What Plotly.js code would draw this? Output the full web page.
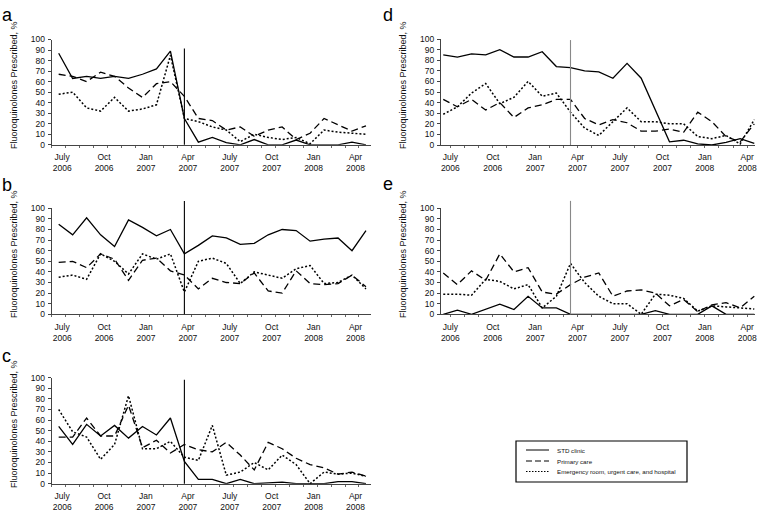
<!DOCTYPE html>
<html>
<head>
<meta charset="utf-8">
<script src="https://cdn.plot.ly/plotly-3.0.1.min.js"></script>
<style>html,body{margin:0;padding:0;background:#fff;}#chart{width:762px;height:513px;}</style>
</head>
<body>
<div id="chart"></div>
<script>
// ---- Data (monthly, July 2006 .. May 2008) ----
const monthIndex = [0,1,2,3,4,5,6,7,8,9,10,11,12,13,14,15,16,17,18,19,20,21,22];
const tickIndex = [0,3,6,9,12,15,18,21];
const tickLabels = ['July<br>2006','Oct<br>2006','Jan<br>2007','Apr<br>2007','July<br>2007','Oct<br>2007','Jan<br>2008','Apr<br>2008'];
const interventionIndex = 9; // April 2007
const seriesNames = ['STD clinic','Primary care','Emergency room, urgent care, and hospital'];
const yTitle = 'Fluoroquinolones Prescribed, %';
const yTicks = [0,10,20,30,40,50,60,70,80,90,100];

const a_std = [87,63,65,63,65,63,67,72,89,25,2.5,7,2,0,5,0,0,4.5,0,0,0,2.5,0];
const a_pc  = [67,65,60,69,65,54,45,58,60,46,25,23,14,17,8,14,17,5,11,25,19,13,18];
const a_er  = [48,50,35,32,45,32,34,38,85,25,22,17,14,3,10,7,5,7,1,14,12,11,10];

const b_std = [85,75,91,75,64,89,82,74,80,57,65,74,72,66,67,75,80,79,69,71,72,60,79];
const b_pc  = [49,50,44,57,52,32,51,53,41,37,24,34,30,29,39,22,20,41,29,28,29,37,26];
const b_er  = [35,37,33,57,50,38,57,52,57,21,50,53,48,29,40,37,34,43,46,29,30,37,24];

const c_std = [54,37,56,45,55,43,54,46,62,21,4,4,0,4,0,1,1.5,0,0,0,2,2,0];
const c_pc  = [44,44,62,45,45,74,34,41,29,37,32,30,39,27,13,39,33,24,18,15,9,11,7];
const c_er  = [70,49,44,23,37,83,33,33,40,25,22,55,8,11,20,13,27,18,0,11,9,10,7];

const d_std = [85,83,86,85,90,83,83,88,74,73,70,69,63,77,63,33,3,4.5,1,0,2.5,6,1.5];
const d_pc  = [43,36,43,33,40,26,35,38,43,43,25,19,24,21,13,13,15,12,31,22,8,3,20];
const d_er  = [29,36,49,58,39,45,60,46,49,31,16,9,22,35,22,22,20,20,8,6,9,1,24];

const e_std = [0,4,0,5,9.5,4.5,17,6,6,0,0,0,0,0,0,3.5,0,0,0,8,0,0,0];
const e_pc  = [39,28,41,32,57,40,44,21,19,28,35,39,17,22,23,20,8,14,2.5,9,11,6,17];
const e_er  = [19,19,18,33,31,24,28,6,17,48,30,17,10,10,0,19,18,15,3,8,7,6,5];

// ---- Layout helpers ----
const W = 762, H = 513;
const px = x => x / W;
const py = y => 1 - y / H;
const FONT = 'Liberation Sans, Arial, sans-serif';

const panels = [
  {key:'a', data:[a_std,a_pc,a_er], x0:51.7, x1:371, yb:144.8, yt:39.5, range:[-0.5,22.36], tickOff:0.25, vTop:0.915, vColor:'#000', lx:0, ly:15, tx:14, ty:85},
  {key:'b', data:[b_std,b_pc,b_er], x0:51.7, x1:371, yb:314.3, yt:208.3, range:[-0.5,22.36], tickOff:0.25, vTop:1.07, vColor:'#000', lx:0, ly:185, tx:14, ty:254},
  {key:'c', data:[c_std,c_pc,c_er], x0:51.7, x1:371, yb:483.7, yt:377.7, range:[-0.5,22.36], tickOff:0.25, vTop:0.98, vColor:'#000', lx:0, ly:356, tx:14, ty:424},
  {key:'d', data:[d_std,d_pc,d_er], x0:441, x1:755, yb:145, yt:39, range:[-0.16,22.05], tickOff:0.5, vTop:0.99, vColor:'#888', lx:381, ly:15, tx:403, ty:85},
  {key:'e', data:[e_std,e_pc,e_er], x0:441, x1:755, yb:314.3, yt:208.3, range:[-0.16,22.05], tickOff:0.5, vTop:1.07, vColor:'#888', lx:381, ly:184, tx:403, ty:254}
];

const lineStyles = [
  {color:'#000', width:1.3, dash:'solid'},
  {color:'#000', width:1.3, dash:'7px,4px'},
  {color:'#000', width:1.5, dash:'2px,2px'}
];

const traces = [];
const layout = {
  width: W, height: H,
  margin: {l:0, r:0, t:0, b:0},
  paper_bgcolor: '#fff', plot_bgcolor: '#fff',
  showlegend: false,
  font: {family: FONT, color: '#111'},
  shapes: [], annotations: []
};

panels.forEach((p, i) => {
  const n = i === 0 ? '' : String(i + 1);
  const xa = 'xaxis' + n, ya = 'yaxis' + n;
  const xr = 'x' + n, yr = 'y' + n;
  p.data.forEach((vals, s) => {
    traces.push({
      type: 'scatter', mode: 'lines',
      x: monthIndex, y: vals, name: seriesNames[s],
      xaxis: xr, yaxis: yr,
      line: lineStyles[s], hoverinfo: 'skip'
    });
  });
  layout[xa] = {
    domain: [px(p.x0), px(p.x1)], anchor: yr, range: p.range,
    showgrid: false, zeroline: false, showline: true, linecolor: '#444', linewidth: 1,
    tickmode: 'array', tickvals: tickIndex.map(v => v + p.tickOff), ticktext: tickLabels,
    ticks: '', tickfont: {size: 8.5, family: FONT, color: '#111'},
    ticklabelstandoff: 4,
    minor: {tickmode: 'linear', tick0: -0.5, dtick: 1, ticks: 'outside', ticklen: 2, tickcolor: '#666'}
  };
  layout[ya] = {
    domain: [py(p.yb), py(p.yt)], anchor: xr, range: [0, 100],
    showgrid: false, zeroline: false, showline: true, linecolor: '#444', linewidth: 1,
    tickmode: 'array', tickvals: yTicks, ticks: 'outside', ticklen: 3, tickcolor: '#444',
    tickfont: {size: 8.5, family: FONT, color: '#111'}, ticklabelstandoff: 1
  };
  layout.shapes.push({
    type: 'line', xref: xr, yref: yr + ' domain',
    x0: interventionIndex, x1: interventionIndex, y0: 0, y1: p.vTop,
    line: {color: p.vColor, width: 1.1}
  });
  layout.annotations.push({
    xref: 'paper', yref: 'paper', x: px(p.lx), y: py(p.ly),
    xanchor: 'left', yanchor: 'middle', showarrow: false,
    text: p.key, font: {size: 18, family: FONT, color: '#000'}
  });
  layout.annotations.push({
    xref: 'paper', yref: 'paper', x: px(p.tx), y: py(p.ty),
    xanchor: 'center', yanchor: 'middle', showarrow: false, textangle: -90,
    text: yTitle, font: {size: 9, family: FONT, color: '#111'}
  });
});

// ---- Legend box (bottom right) ----
const lg = {x0:516, x1:687, y0:441, y1:482, lineX0:526, lineX1:549, textX:555, rows:[450, 461, 471.5]};
layout.shapes.push({
  type: 'rect', xref: 'paper', yref: 'paper',
  x0: px(lg.x0), x1: px(lg.x1), y0: py(lg.y1), y1: py(lg.y0),
  line: {color: '#000', width: 1.2}, fillcolor: '#fff', layer: 'below'
});
seriesNames.forEach((name, s) => {
  layout.shapes.push({
    type: 'line', xref: 'paper', yref: 'paper',
    x0: px(lg.lineX0), x1: px(lg.lineX1), y0: py(lg.rows[s]), y1: py(lg.rows[s]),
    line: {color: '#000', width: 1, dash: s === 0 ? 'solid' : (s === 1 ? '6px,3px' : '1.5px,1.5px')}
  });
  layout.annotations.push({
    xref: 'paper', yref: 'paper', x: px(lg.textX), y: py(lg.rows[s]),
    xanchor: 'left', yanchor: 'middle', showarrow: false,
    text: name, font: {size: 6.2, family: FONT, color: '#111'}
  });
});

Plotly.newPlot('chart', traces, layout, {staticPlot: true, displayModeBar: false});
</script>
</body>
</html>
